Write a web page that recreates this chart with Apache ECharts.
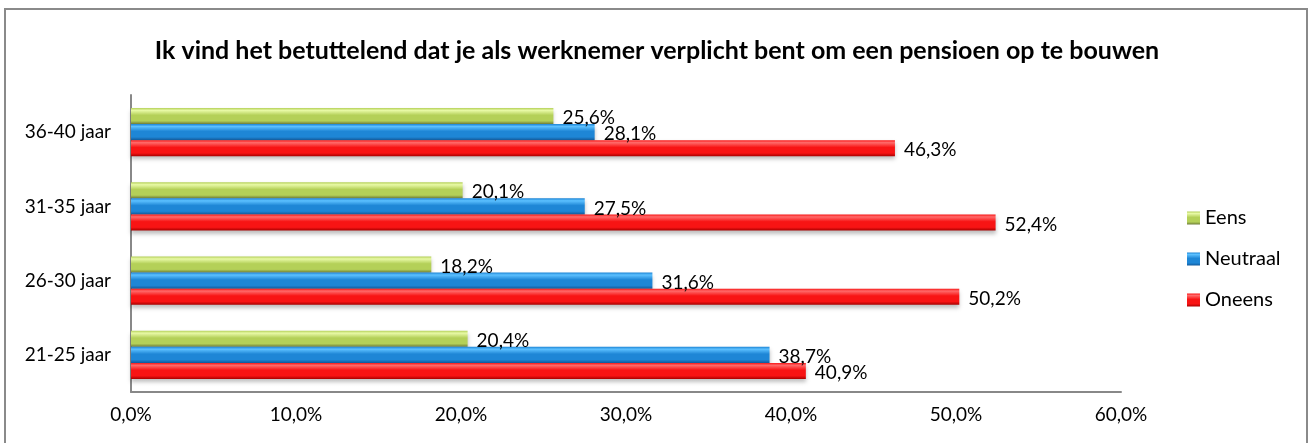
<!DOCTYPE html>
<html>
<head>
<meta charset="utf-8">
<script src="https://cdn.jsdelivr.net/npm/echarts@6/dist/echarts.min.js"></script>
<style>
    html, body {margin: 0; padding: 0; background: #fff;}
    #chart {width: 1314px; height: 443px;}
</style>
</head>
<body>
<div id="chart"></div>
<script>
var categories = ['21-25 jaar', '26-30 jaar', '31-35 jaar', '36-40 jaar'];
var eens = [20.4, 18.2, 20.1, 25.6];
var neutraal = [38.7, 31.6, 27.5, 28.1];
var oneens = [40.9, 50.2, 52.4, 46.3];

var fontFamily = 'Lato, "Open Sans", sans-serif';

// cylinder look: light on top, dark at the bottom
var grad = function (top, mid, bottom) {
    return {
        type: 'linear', x: 0, y: 0, x2: 0, y2: 1,
        colorStops: [
            {offset: 0, color: mid},
            {offset: 0.15, color: top},
            {offset: 0.45, color: mid},
            {offset: 0.8, color: mid},
            {offset: 1, color: bottom}
        ]
    };
};

var greenFill = grad('#e8f9a6', '#b4d058', '#6d7c38');
var blueFill = grad('#5cc0ff', '#1e86d6', '#125a9c');
var redFill = grad('#ff6a6a', '#f81414', '#a80000');

var pct = function (v) {
    return v.toFixed(1).replace('.', ',') + '%';
};

var makeSeries = function (name, data, fill) {
    return {
        name: name,
        type: 'bar',
        data: data,
        barGap: '0%',
        barCategoryGap: '35%',
        itemStyle: {
            color: fill,
            shadowColor: 'rgba(0,0,0,0.25)',
            shadowBlur: 4,
            shadowOffsetY: 3
        },
        label: {
            show: true,
            position: 'right',
            distance: 9,
            offset: [0, 2],
            color: '#000',
            fontSize: 19,
            fontFamily: fontFamily,
            formatter: function (p) {
                return pct(p.value);
            }
        }
    };
};

var chart = echarts.init(document.getElementById('chart'));
chart.setOption({
    animation: false,
    backgroundColor: '#fff',
    title: {
        text: 'Ik vind het betuttelend dat je als werknemer verplicht bent om een pensioen op te bouwen',
        left: 'center',
        top: 33,
        textStyle: {
            fontFamily: fontFamily,
            fontWeight: 'bold',
            fontSize: 25,
            color: '#000'
        }
    },
    legend: {
        orient: 'vertical',
        left: 1182,
        top: 203,
        itemGap: 21,
        itemWidth: 13,
        itemHeight: 13,
        icon: 'rect',
        data: ['Eens', 'Neutraal', 'Oneens'],
        textStyle: {fontFamily: fontFamily, fontSize: 20, color: '#000'}
    },
    grid: {left: 131, right: 193, top: 95, bottom: 51, containLabel: false},
    xAxis: {
        type: 'value',
        min: 0,
        max: 60,
        interval: 10,
        axisLine: {show: true, lineStyle: {color: '#888', width: 2}},
        axisTick: {show: false},
        splitLine: {show: false},
        axisLabel: {
            margin: 13,
            color: '#000',
            fontSize: 19,
            fontFamily: fontFamily,
            formatter: pct
        }
    },
    yAxis: {
        type: 'category',
        data: categories,
        axisLine: {show: true, lineStyle: {color: '#888', width: 2}},
        axisTick: {show: false},
        axisLabel: {margin: 20, color: '#000', fontSize: 19, fontFamily: fontFamily}
    },
    series: [
        makeSeries('Eens', eens, greenFill),
        makeSeries('Neutraal', neutraal, blueFill),
        makeSeries('Oneens', oneens, redFill)
    ],
    graphic: [{
        type: 'rect',
        shape: {x: 5, y: 9, width: 1302, height: 450},
        style: {fill: null, stroke: '#8a8a8a', lineWidth: 2},
        silent: true
    }]
});
</script>
</body>
</html>
